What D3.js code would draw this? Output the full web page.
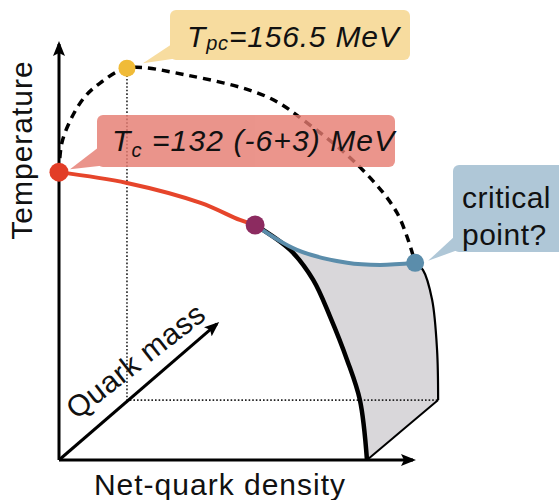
<!DOCTYPE html>
<html>
<head>
<meta charset="utf-8">
<script src="https://cdn.jsdelivr.net/npm/d3@7"></script>
<style>
  body { margin: 0; background: #fff; }
  text { font-family: "Liberation Sans", Arial, sans-serif; fill: #111; }
</style>
</head>
<body>
<div id="chart"></div>
<script>
// schematic phase diagram, plane coordinates: [net-quark density, temperature], both 0..10
var crossoverLine = [[0, 6.92], [0.08, 7.62], [0.37, 8.25], [0.73, 8.73], [1.16, 9.06], [1.92, 9.42],
  [3.62, 9.25], [5.88, 8.73], [7.09, 8.05], [8.50, 7.04], [9.55, 5.94], [10.06, 4.74]]
var chiralLine = [[0, 6.92], [1.92, 6.66], [4.0, 6.18], [5.11, 5.77], [5.54, 5.65]]
var criticalLine = [[5.54, 5.65], [6.72, 5.05], [8.14, 4.74], [9.07, 4.69], [10.06, 4.74]]
var firstOrderEdge = [[5.54, 5.65], [6.53, 5.05], [7.18, 4.33], [7.66, 3.44], [8.14, 2.40], [8.50, 1.44], [8.70, 0]]
var physMassEdge = [[10.06, 4.74], [10.28, 4.57], [10.54, 3.85], [10.68, 2.64], [10.71, 1.44]]
var physMassFloor = [1.92, 1.44]   // where the physical quark mass sits on the mass axis
var massAxisEnd = [4.46, 3.27]

var points = [
  {name: "Tc", at: [0, 6.92], color: "#e23d27", r: 9.5},
  {name: "Tpc", at: [1.92, 9.42], color: "#f0bb38", r: 8.5},
  {name: "tri", at: [5.54, 5.65], color: "#8c2b60", r: 9.5},
  {name: "cp", at: [10.06, 4.74], color: "#5b8dab", r: 9}
]

var width = 559, height = 500

var svg = d3.select("#chart").append("svg")
  .attr("width", width)
  .attr("height", height)

var x = d3.scaleLinear().domain([0, 10]).range([59, 413])
var y = d3.scaleLinear().domain([0, 10]).range([460, 44])

var defs = svg.append("defs")
defs.append("marker")
  .attr("id", "arrow")
  .attr("viewBox", "0 -6 15 12")
  .attr("refX", 12)
  .attr("refY", 0)
  .attr("markerUnits", "userSpaceOnUse")
  .attr("markerWidth", 15)
  .attr("markerHeight", 12)
  .attr("orient", "auto")
  .append("path")
  .attr("d", "M0,-6L15,0L0,6L3,0Z")
  .attr("fill", "#000")

var line = d3.line()
  .x(function(d) { return x(d[0]); })
  .y(function(d) { return y(d[1]); })
  .curve(d3.curveCatmullRom)

// shaded first-order surface
var bottomCorner = [physMassEdge[physMassEdge.length - 1], firstOrderEdge[firstOrderEdge.length - 1]]
var area = line(firstOrderEdge)
  + d3.line().x(function(d) { return x(d[0]); }).y(function(d) { return y(d[1]); })(bottomCorner.slice().reverse()).replace(/^M/, "L")
  + line(physMassEdge.slice().reverse()).replace(/^M/, "L")
  + line(criticalLine.slice().reverse()).replace(/^M/, "L") + "Z"
svg.append("path")
  .attr("d", area)
  .attr("fill", "#d9d7da")

// dotted guide lines at physical quark mass
var guide = [[physMassFloor[0], points[1].at[1]], physMassFloor, [physMassEdge[physMassEdge.length - 1][0], physMassFloor[1]]]
svg.append("path")
  .attr("d", d3.line().x(function(d) { return x(d[0]); }).y(function(d) { return y(d[1]); })(guide))
  .attr("fill", "none")
  .attr("stroke", "#222")
  .attr("stroke-width", 1.6)
  .attr("stroke-dasharray", "1.6,2")

// axes
var axes = [[[0, 0], [0, 10]], [[0, 0], [10, 0]], [[0, 0], massAxisEnd]]
svg.selectAll(".axis")
  .data(axes)
  .enter().append("line")
  .attr("class", "axis")
  .attr("x1", function(d) { return x(d[0][0]); })
  .attr("y1", function(d) { return y(d[0][1]); })
  .attr("x2", function(d) { return x(d[1][0]); })
  .attr("y2", function(d) { return y(d[1][1]); })
  .attr("stroke", "#000")
  .attr("stroke-width", 3)
  .attr("marker-end", "url(#arrow)")

// bottom connector of the surface
svg.append("line")
  .attr("x1", x(bottomCorner[0][0])).attr("y1", y(bottomCorner[0][1]))
  .attr("x2", x(bottomCorner[1][0])).attr("y2", y(bottomCorner[1][1]))
  .attr("stroke", "#000")
  .attr("stroke-width", 2)

svg.append("path")
  .attr("d", line(physMassEdge))
  .attr("fill", "none")
  .attr("stroke", "#000")
  .attr("stroke-width", 2.2)

svg.append("path")
  .attr("d", line(firstOrderEdge))
  .attr("fill", "none")
  .attr("stroke", "#000")
  .attr("stroke-width", 4.5)

svg.append("path")
  .attr("d", line(crossoverLine))
  .attr("fill", "none")
  .attr("stroke", "#000")
  .attr("stroke-width", 3.5)
  .attr("stroke-dasharray", "8,6")

svg.append("path")
  .attr("d", line(chiralLine))
  .attr("fill", "none")
  .attr("stroke", "#e6452b")
  .attr("stroke-width", 4)

svg.append("path")
  .attr("d", line(criticalLine))
  .attr("fill", "none")
  .attr("stroke", "#5b8dab")
  .attr("stroke-width", 4)

// callouts
function callout(box, tail, fill, op) {
  var g = svg.append("g").attr("opacity", op)
  g.append("rect")
    .attr("x", box[0]).attr("y", box[1])
    .attr("width", box[2]).attr("height", box[3])
    .attr("rx", 6)
    .attr("fill", fill)
  g.append("path")
    .attr("d", "M" + tail.join("L") + "Z")
    .attr("fill", fill)
  return g
}

var pY = [x(points[1].at[0]), y(points[1].at[1])]
var pR = [x(points[0].at[0]), y(points[0].at[1])]
var pB = [x(points[3].at[0]), y(points[3].at[1])]

callout([170, 10, 240, 50], [[172, 44], [172, 59], [pY[0] + 16, pY[1] - 5]], "#f7dc9f", 1)
callout([97, 115, 298, 52], [[99, 147], [99, 166], [pR[0] + 11, pR[1] - 3]], "#e67a6f", 0.8)
callout([453, 165, 130, 87], [[455, 236], [455, 251], [pB[0] + 13, pB[1] - 2]], "#afc7d7", 1)

var t1 = svg.append("text")
  .attr("x", 187).attr("y", 47)
  .attr("font-style", "italic")
  .attr("font-size", 30)
  .attr("letter-spacing", 0.8)
t1.append("tspan").text("T")
t1.append("tspan").attr("font-size", 20).attr("dy", 3).text("pc")
t1.append("tspan").attr("dy", -3).text("=156.5 MeV")

var t2 = svg.append("text")
  .attr("x", 112).attr("y", 151)
  .attr("font-style", "italic")
  .attr("font-size", 30)
  .attr("letter-spacing", 1.1)
t2.append("tspan").text("T")
t2.append("tspan").attr("font-size", 20).attr("dy", 6).text("c")
t2.append("tspan").attr("dy", -6).text(" =132 (-6+3) MeV")

svg.append("text").attr("x", 462).attr("y", 208).attr("font-size", 30).attr("letter-spacing", 0.5).text("critical")
svg.append("text").attr("x", 462).attr("y", 245).attr("font-size", 30).attr("letter-spacing", 0.5).text("point?")

// points
svg.selectAll(".dot")
  .data(points)
  .enter().append("circle")
  .attr("class", "dot")
  .attr("cx", function(d) { return x(d.at[0]); })
  .attr("cy", function(d) { return y(d.at[1]); })
  .attr("r", function(d) { return d.r; })
  .attr("fill", function(d) { return d.color; })

// axis titles
svg.append("text")
  .attr("transform", "translate(32,150) rotate(-90)")
  .attr("text-anchor", "middle")
  .attr("font-size", 30)
  .attr("letter-spacing", 1)
  .text("Temperature")

svg.append("text")
  .attr("x", 220).attr("y", 495)
  .attr("text-anchor", "middle")
  .attr("font-size", 30)
  .attr("letter-spacing", 1)
  .text("Net-quark density")

svg.append("text")
  .attr("transform", "translate(142,369) rotate(-38)")
  .attr("text-anchor", "middle")
  .attr("font-size", 30)
  .attr("letter-spacing", 0.5)
  .text("Quark mass")
</script>
</body>
</html>
